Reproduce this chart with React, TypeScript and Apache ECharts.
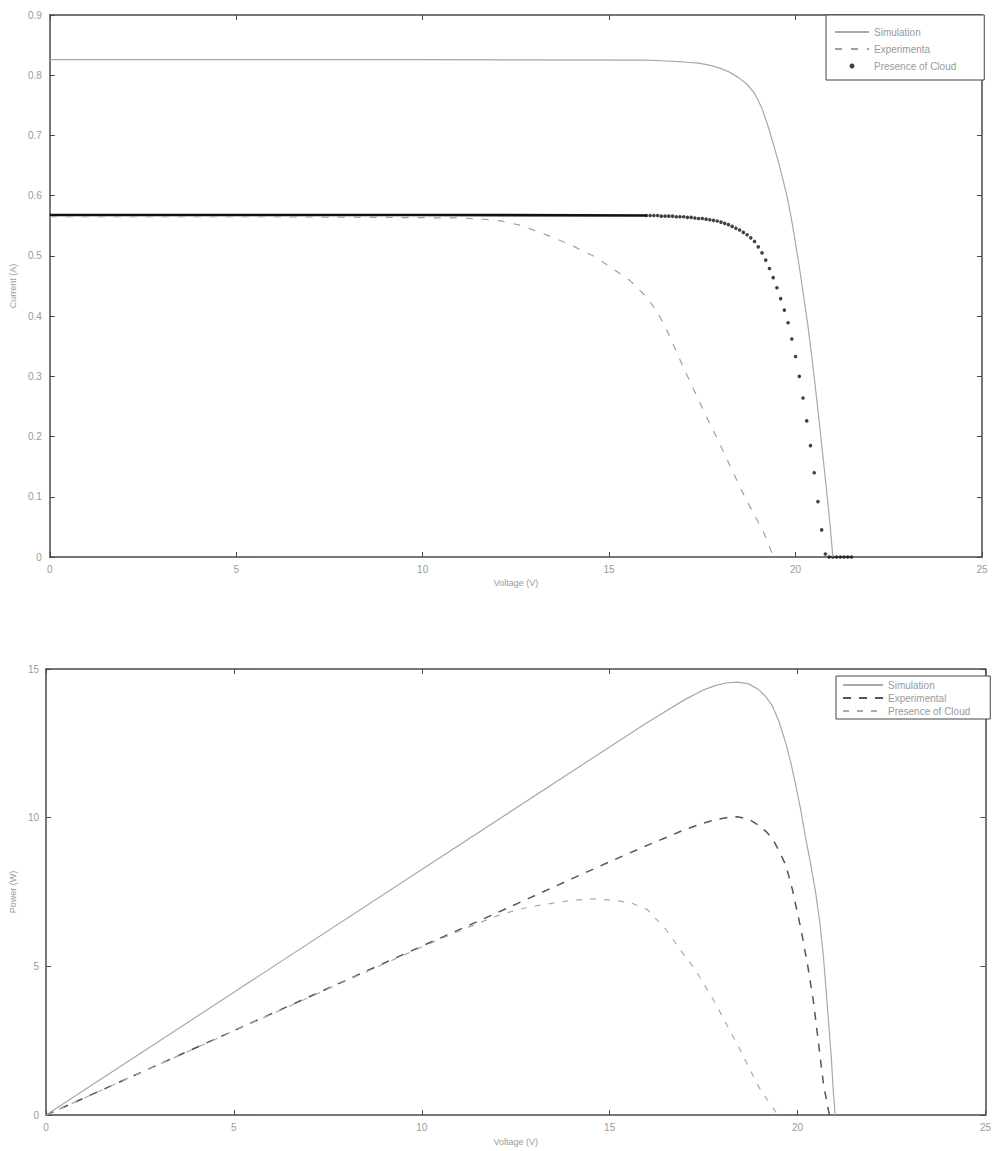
import React, { useEffect, useRef } from "react";
import * as echarts from "echarts";

// ---------- Current vs Voltage (top chart) ----------
const IV_SIM_V = [0, 10, 16, 16.4, 17.0, 17.4, 17.75, 18.0, 18.2, 18.47, 18.7, 18.9, 19.1, 19.28, 19.44, 19.6, 19.76, 19.87, 19.97, 20.1, 20.2, 20.33, 20.45, 20.55, 20.65, 20.75, 20.85, 20.93, 21.0];
const IV_SIM_I = [0.826, 0.826, 0.825, 0.824, 0.822, 0.82, 0.816, 0.811, 0.806, 0.796, 0.785, 0.77, 0.745, 0.712, 0.678, 0.642, 0.602, 0.568, 0.532, 0.482, 0.44, 0.385, 0.325, 0.272, 0.215, 0.158, 0.1, 0.05, 0];

const IV_EXP_V = [0, 6, 11, 11.6, 12.1, 12.6, 13.1, 13.6, 14.08, 14.6, 15.07, 15.56, 16.0, 16.3, 16.54, 16.99, 17.48, 18.02, 18.55, 18.85, 19.13, 19.36, 19.4];
const IV_EXP_I = [0.565, 0.565, 0.563, 0.561, 0.558, 0.551, 0.54, 0.528, 0.515, 0.499, 0.48, 0.459, 0.432, 0.406, 0.378, 0.315, 0.25, 0.181, 0.111, 0.075, 0.043, 0.008, 0];

const IV_FLAT_V = [0, 5, 10, 16];
const IV_FLAT_I = [0.568, 0.568, 0.568, 0.567];

const IV_DOT_V = [
  16.0, 16.1, 16.2, 16.3, 16.4, 16.5, 16.6, 16.7, 16.8, 16.9,
  17.0, 17.1, 17.2, 17.3, 17.4, 17.5, 17.6, 17.7, 17.8, 17.9,
  18.0, 18.1, 18.2, 18.3, 18.4, 18.5, 18.6, 18.7, 18.8, 18.9,
  19.0, 19.1, 19.2, 19.3, 19.4, 19.5, 19.6, 19.7, 19.8, 19.9,
  20.0, 20.1, 20.2, 20.3, 20.4, 20.5, 20.6, 20.7, 20.8, 20.9,
  21.0, 21.1, 21.2, 21.3, 21.4, 21.5,
];
const IV_DOT_I = [
  0.567, 0.567, 0.567, 0.567, 0.566, 0.566, 0.566, 0.566, 0.565, 0.565,
  0.565, 0.564, 0.564, 0.563, 0.562, 0.562, 0.561, 0.56, 0.559, 0.558,
  0.556, 0.554, 0.552, 0.549, 0.546, 0.543, 0.539, 0.535, 0.53, 0.524,
  0.515, 0.505, 0.493, 0.479, 0.464, 0.447, 0.429, 0.41, 0.389, 0.362,
  0.333, 0.3, 0.264, 0.226, 0.185, 0.14, 0.092, 0.045, 0.005, 0,
  0, 0, 0, 0, 0, 0,
];

// ---------- Power vs Voltage (bottom chart) ----------
const PV_SIM_V = [0, 5, 10, 15, 16, 17, 17.5, 17.8, 18.1, 18.4, 18.7, 18.97, 19.15, 19.33, 19.5, 19.69, 19.82, 19.95, 20.08, 20.2, 20.34, 20.48, 20.6, 20.69, 20.76, 20.83, 20.9, 20.95, 21.0];
const PV_SIM_P = [0, 4.13, 8.26, 12.38, 13.2, 13.97, 14.3, 14.44, 14.53, 14.56, 14.5, 14.3, 14.08, 13.76, 13.25, 12.5, 11.85, 11.1, 10.3, 9.42, 8.5, 7.5, 6.4, 5.3, 4.2, 3.05, 1.9, 0.83, 0];

const PV_EXP_V = [0, 5, 10, 12, 14, 15, 16, 17, 17.5, 17.8, 18.1, 18.4, 18.7, 18.97, 19.15, 19.33, 19.5, 19.69, 19.86, 20.1, 20.28, 20.42, 20.55, 20.69, 20.82, 20.85];
const PV_EXP_P = [0, 2.84, 5.68, 6.8, 7.95, 8.52, 9.07, 9.6, 9.82, 9.93, 10.0, 10.03, 9.95, 9.74, 9.55, 9.3, 8.9, 8.4, 7.6, 6.2, 4.95, 3.84, 2.5, 1.04, 0.17, 0];

const PV_CLOUD_V = [0, 5, 10, 11, 11.5, 12, 12.5, 13, 13.5, 14, 14.6, 15.07, 15.56, 16.0, 16.5, 17.0, 17.3, 17.83, 18.44, 18.97, 19.2, 19.46, 19.5];
const PV_CLOUD_P = [0, 2.83, 5.65, 6.19, 6.45, 6.7, 6.89, 7.03, 7.13, 7.22, 7.27, 7.23, 7.14, 6.91, 6.24, 5.35, 4.85, 3.72, 2.27, 0.94, 0.5, 0.04, 0];

const IV_Y_MAX = 0.9;
const PV_Y_MAX = 15;

const FONT = "Liberation Sans, Arial, Helvetica, sans-serif";
const LABEL_GRAY = "#9a9a9a";
const AXIS_DARK = "#4a4a4a";

const zip = (xs: number[], ys: number[]) => xs.map((x, i) => [x, ys[i]]);

function axisPair(kind: "x" | "y", gridIndex: number, min: number, max: number, interval: number, name: string, nameGap: number, labelMargin: number) {
  const main: any = {
    type: "value",
    gridIndex,
    min,
    max,
    interval,
    name,
    nameLocation: "middle",
    nameGap,
    nameTextStyle: { color: LABEL_GRAY, fontSize: 9, fontFamily: FONT },
    axisLine: { show: true, onZero: false, lineStyle: { color: AXIS_DARK, width: 1.5 } },
    axisTick: { show: true, inside: true, length: 5, lineStyle: { color: AXIS_DARK, width: 1 } },
    axisLabel: { color: LABEL_GRAY, fontSize: 10, fontFamily: FONT, margin: labelMargin },
    splitLine: { show: false },
    position: kind === "x" ? "bottom" : "left",
  };
  const mirror: any = {
    type: "value",
    gridIndex,
    min,
    max,
    interval,
    axisLine: { show: true, onZero: false, lineStyle: { color: AXIS_DARK, width: 1.5 } },
    axisTick: { show: true, inside: true, length: 5, lineStyle: { color: AXIS_DARK, width: 1 } },
    axisLabel: { show: false },
    splitLine: { show: false },
    position: kind === "x" ? "top" : "right",
  };
  return [main, mirror];
}

function lineSeries(name: string, data: number[][], color: string, width: number, type: any): any {
  return {
    name,
    type: "line",
    data,
    symbol: "none",
    lineStyle: { color, width, type },
    itemStyle: { color },
  };
}

// legend entry for a line series: line only, no marker
const lineEntry = (name: string) => ({ name, itemStyle: { opacity: 0 } });

function ivOption(): any {
  return {
    animation: false,
    backgroundColor: "#ffffff",
    grid: [{ left: 48, top: 15, width: 934, height: 542 }],
    xAxis: axisPair("x", 0, 0, 25, 5, "Voltage (V)", 19, 7),
    yAxis: axisPair("y", 0, 0, IV_Y_MAX, 0.1, "Current (A)", 30, 8),
    legend: {
      left: 826,
      top: 15,
      orient: "vertical",
      itemWidth: 34,
      itemHeight: 5,
      itemGap: 7,
      padding: [12, 28, 9, 8],
      borderColor: "#444",
      borderWidth: 1,
      backgroundColor: "#ffffff",
      selectedMode: false,
      textStyle: { color: LABEL_GRAY, fontSize: 10, fontFamily: FONT },
      data: [lineEntry("Simulation"), lineEntry("Experimenta"), { name: "Presence of Cloud" }],
    },
    series: [
      lineSeries("Simulation", zip(IV_SIM_V, IV_SIM_I), "#a8a8a8", 1.2, "solid"),
      lineSeries("cloudFlat", zip(IV_FLAT_V, IV_FLAT_I), "#111111", 2.6, "solid"),
      {
        name: "Presence of Cloud",
        type: "scatter",
        data: zip(IV_DOT_V, IV_DOT_I),
        symbol: "circle",
        symbolSize: 3.6,
        itemStyle: { color: "#111" },
      },
      lineSeries("Experimenta", zip(IV_EXP_V, IV_EXP_I), "#a0a0a0", 1.2, [7, 9]),
    ],
  };
}

function pvOption(): any {
  return {
    animation: false,
    backgroundColor: "#ffffff",
    grid: [{ left: 45, top: 49, width: 946, height: 449 }],
    xAxis: axisPair("x", 0, 0, 25, 5, "Voltage (V)", 20, 7),
    yAxis: axisPair("y", 0, 0, PV_Y_MAX, 5, "Power (W)", 27, 7),
    legend: {
      left: 836,
      top: 56,
      orient: "vertical",
      itemWidth: 40,
      itemHeight: 5,
      itemGap: 3,
      padding: [4, 20, 3, 6],
      borderColor: "#444",
      borderWidth: 1,
      backgroundColor: "#ffffff",
      selectedMode: false,
      textStyle: { color: LABEL_GRAY, fontSize: 10, fontFamily: FONT },
      data: [lineEntry("Simulation"), lineEntry("Experimental"), lineEntry("Presence of Cloud")],
    },
    series: [
      lineSeries("Simulation", zip(PV_SIM_V, PV_SIM_P), "#a8a8a8", 1.2, "solid"),
      lineSeries("Experimental", zip(PV_EXP_V, PV_EXP_P), "#555555", 1.5, [8, 8]),
      lineSeries("Presence of Cloud", zip(PV_CLOUD_V, PV_CLOUD_P), "#aaaaaa", 1.2, [6, 8]),
    ],
  };
}

function Chart({ height, option }: { height: number; option: any }) {
  const ref = useRef<HTMLDivElement | null>(null);
  useEffect(() => {
    if (!ref.current) return;
    const chart = echarts.init(ref.current, undefined, { renderer: "svg" });
    chart.setOption(option);
    return () => chart.dispose();
  }, []);
  return <div ref={ref} style={{ width: 994, height }} />;
}

export default function App() {
  useEffect(() => {
    document.body.style.margin = "0";
  }, []);
  return (
    <div style={{ width: 994, height: 1151, background: "#fff", overflow: "hidden" }}>
      <Chart height={620} option={ivOption()} />
      <Chart height={531} option={pvOption()} />
    </div>
  );
}
